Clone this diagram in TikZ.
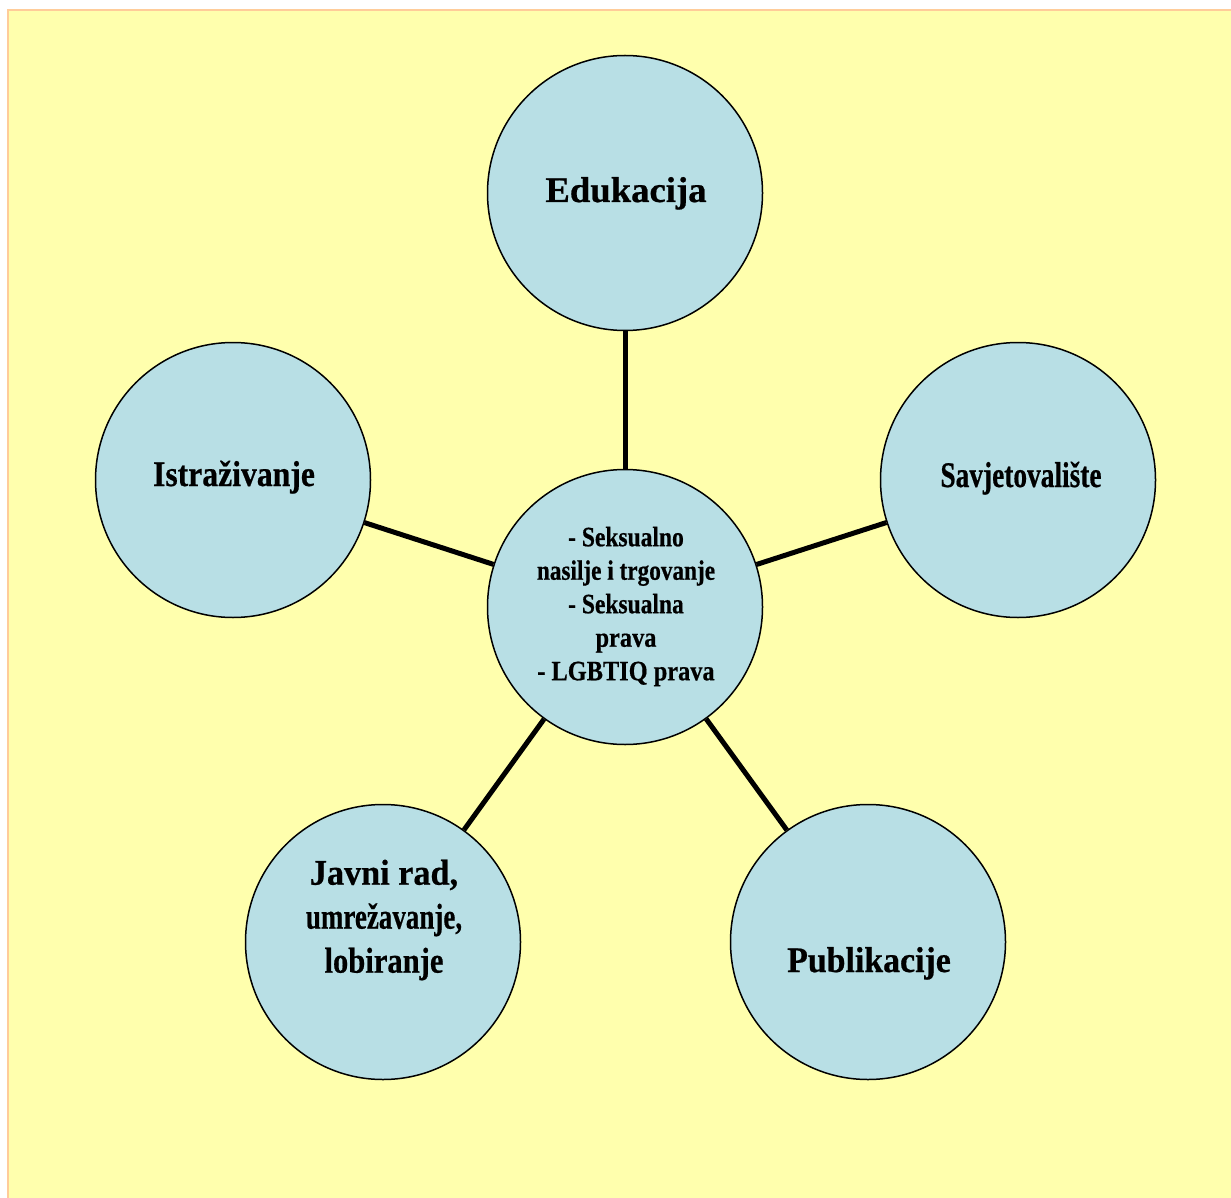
\documentclass[tikz,border=0pt]{standalone}
\usepackage{fontspec}
\setmainfont{Liberation Serif}[BoldFeatures={FakeBold=0.6}]
\usepackage{graphicx}
\definecolor{bgyellow}{RGB}{255,255,173}
\definecolor{bgborder}{RGB}{255,204,153}
\definecolor{circfill}{RGB}{184,223,229}
\newcommand{\sx}[2]{\scalebox{#1}[1]{#2}}
\tikzset{
  bubble/.style={circle, draw=black, line width=1.5pt, fill=circfill, minimum size=275pt, inner sep=0pt},
  conn/.style={line width=5pt, draw=black},
  biglabel/.style={font=\bfseries\fontsize{36}{44}\selectfont, inner sep=0pt, align=center},
  ctrlabel/.style={font=\bfseries\fontsize{28}{33.5}\selectfont, inner sep=0pt, align=center}
}
\begin{document}
\begin{tikzpicture}[x=1pt,y=-1pt]
\useasboundingbox (0,0) rectangle (1231,1198);
\fill[bgyellow] (8,10) rectangle (1231,1198);
\draw[bgborder, line width=2pt] (8,1198) -- (8,10) -- (1231,10);
% circles
\node[bubble] (edu) at (625,193) {};
\node[bubble] (istr) at (233,480) {};
\node[bubble] (sav) at (1018,480) {};
\node[bubble] (ctr) at (625,607) {};
\node[bubble] (jav) at (383,942) {};
\node[bubble] (pub) at (868,942) {};
% connectors
\draw[conn] (edu) -- (ctr);
\draw[conn] (istr) -- (ctr);
\draw[conn] (sav) -- (ctr);
\draw[conn] (jav) -- (ctr);
\draw[conn] (pub) -- (ctr);
% labels
\node[biglabel, anchor=base] (tedu) at (626,202) {\sx{1.02}{Edukacija}};
\node[biglabel, anchor=base] (tistr) at (234,486) {\sx{0.88}{Istraživanje}};
\node[biglabel, anchor=base] (tsav) at (1021,487) {\sx{0.76}{Savjetovalište}};
\node[biglabel, anchor=base] (tpub) at (869,972) {\sx{0.94}{Publikacije}};
\node[biglabel] (tjav) at (384,920) {\sx{0.95}{Javni rad,}\\\sx{0.75}{umrežavanje,}\\\sx{0.85}{lobiranje}};
\node[ctrlabel] (tctr) at (626,606.5) {\sx{0.84}{- Seksualno}\\\sx{0.83}{nasilje i trgovanje}\\\sx{0.84}{- Seksualna}\\\sx{0.87}{prava}\\\sx{0.87}{- LGBTIQ prava}};
\end{tikzpicture}
\end{document}
